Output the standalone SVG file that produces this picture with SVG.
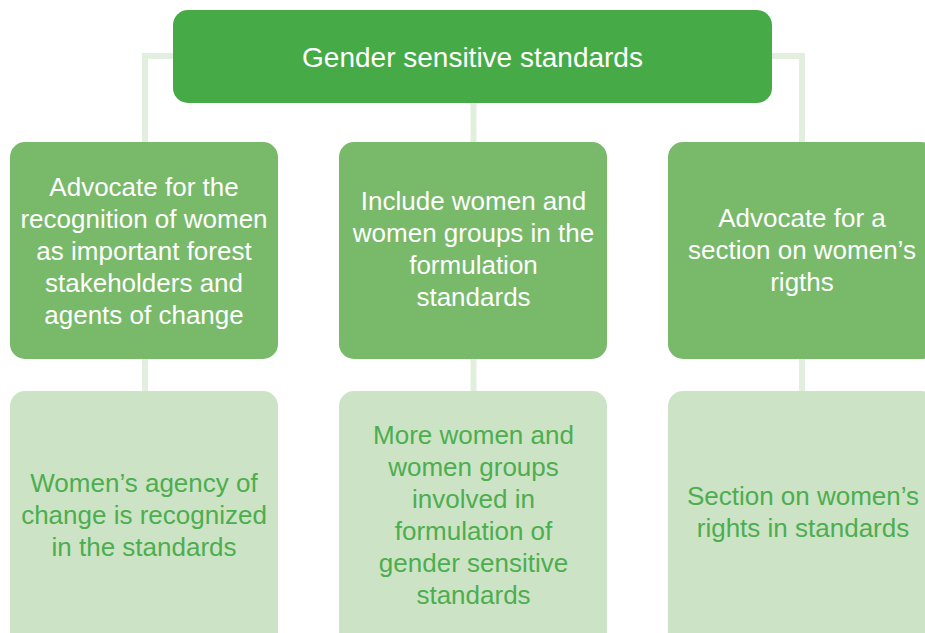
<svg xmlns="http://www.w3.org/2000/svg" width="925" height="633" viewBox="0 0 925 633">
<style>
.conn{fill:none;stroke:#e2efdf;stroke-width:6}
.top{fill:#46aa46}
.mid{fill:#78b96a}
.low{fill:#cde3c6}
text{font-family:"Liberation Sans",Arial,sans-serif;text-anchor:middle}
.tw{fill:#ffffff;font-size:26px}
.tg{fill:#4cae4f;font-size:26px}
.tt{fill:#ffffff;font-size:28px}
</style>
<rect width="925" height="633" fill="#ffffff"/>
<g id="connectors">
<polyline class="conn" points="145,142 145,56 802,56 802,142"/>
<line class="conn" x1="473.5" y1="100" x2="473.5" y2="142"/>
<line class="conn" x1="145" y1="359" x2="145" y2="391"/>
<line class="conn" x1="473.5" y1="359" x2="473.5" y2="391"/>
<line class="conn" x1="802" y1="359" x2="802" y2="391"/>
</g>
<g id="root">
<rect class="top" x="173" y="10" width="599" height="93" rx="15"/>
<text class="tt" x="472.5" y="67">Gender sensitive standards</text>
</g>
<g id="action1">
<rect class="mid" x="10" y="142" width="268" height="217" rx="15"/>
<text class="tw" x="144"><tspan x="144" y="196">Advocate for the</tspan><tspan x="144" y="228">recognition of women</tspan><tspan x="144" y="260">as important forest</tspan><tspan x="144" y="292">stakeholders and</tspan><tspan x="144" y="324">agents of change</tspan></text>
</g>
<g id="action2">
<rect class="mid" x="339" y="142" width="268" height="217" rx="15"/>
<text class="tw" x="473.5"><tspan x="473.5" y="210">Include women and</tspan><tspan x="473.5" y="242">women groups in the</tspan><tspan x="473.5" y="274">formulation</tspan><tspan x="473.5" y="306">standards</tspan></text>
</g>
<g id="action3">
<rect class="mid" x="668" y="142" width="268" height="217" rx="15"/>
<text class="tw" x="802"><tspan x="802" y="227">Advocate for a</tspan><tspan x="802" y="259">section on women’s</tspan><tspan x="802" y="291">rigths</tspan></text>
</g>
<g id="outcome1">
<rect class="low" x="10" y="391" width="268" height="260" rx="15"/>
<text class="tg" x="144"><tspan x="144" y="492">Women’s agency of</tspan><tspan x="144" y="524">change is recognized</tspan><tspan x="144" y="556">in the standards</tspan></text>
</g>
<g id="outcome2">
<rect class="low" x="339" y="391" width="268" height="260" rx="15"/>
<text class="tg" x="473.5"><tspan x="473.5" y="444">More women and</tspan><tspan x="473.5" y="476">women groups</tspan><tspan x="473.5" y="508">involved in</tspan><tspan x="473.5" y="540">formulation of</tspan><tspan x="473.5" y="572">gender sensitive</tspan><tspan x="473.5" y="604">standards</tspan></text>
</g>
<g id="outcome3">
<rect class="low" x="668" y="391" width="268" height="260" rx="15"/>
<text class="tg" x="803"><tspan x="803" y="505">Section on women’s</tspan><tspan x="803" y="537">rights in standards</tspan></text>
</g>
</svg>
